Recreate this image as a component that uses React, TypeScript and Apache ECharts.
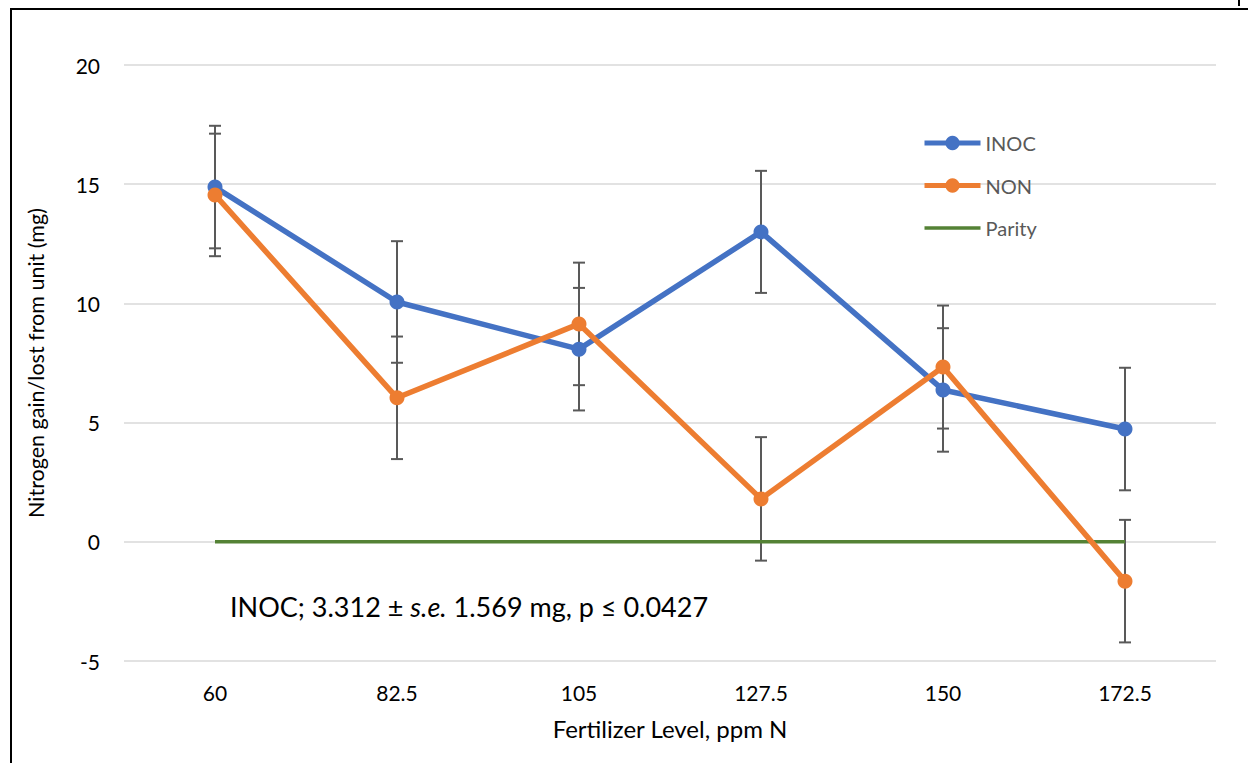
import React, { useEffect, useRef } from "react";
import * as echarts from "echarts";

const categories = ["60", "82.5", "105", "127.5", "150", "172.5"];
const inocValues = [14.88, 10.06, 8.08, 13.0, 6.37, 4.73];
const nonValues = [14.55, 6.04, 9.14, 1.8, 7.33, -1.65];
const parityValues = [0, 0, 0, 0, 0, 0];
const inocErr = [2.57, 2.55, 2.57, 2.56, 2.59, 2.57];
const nonErr = [2.57, 2.57, 2.57, 2.59, 2.58, 2.57];
const yTicks = { min: -5, max: 20, interval: 5 };

const FONT = "Lato, 'Open Sans', sans-serif";

export default function App() {
  const ref = useRef<HTMLDivElement>(null);
  useEffect(() => {
    if (!ref.current) return;
    const chart = echarts.init(ref.current, null, { renderer: "svg" });
    const errData = (vals: number[], errs: number[]) =>
      vals.map((v, i) => [i, v, errs[i]]);
    const renderErr = (params: any, api: any) => {
      const x = api.value(0);
      const v = api.value(1);
      const e = api.value(2);
      const top = api.coord([x, v + e]);
      const bot = api.coord([x, v - e]);
      const hw = 6;
      const st = { stroke: "#595959", lineWidth: 2 };
      return {
        type: "group",
        children: [
          { type: "line", shape: { x1: top[0], y1: top[1], x2: bot[0], y2: bot[1] }, style: st },
          { type: "line", shape: { x1: top[0] - hw, y1: top[1], x2: top[0] + hw, y2: top[1] }, style: st },
          { type: "line", shape: { x1: bot[0] - hw, y1: bot[1], x2: bot[0] + hw, y2: bot[1] }, style: st },
        ],
      };
    };
    chart.setOption({
      animation: false,
      backgroundColor: "#ffffff",
      textStyle: { fontFamily: FONT },
      grid: { left: 124, right: 32, top: 65, bottom: 102, containLabel: false },
      legend: {
        data: [
          { name: "INOC", lineStyle: { width: 5 } },
          { name: "NON", lineStyle: { width: 5 } },
          { name: "Parity", lineStyle: { width: 3.5 }, itemStyle: { opacity: 0 } },
        ],
        orient: "vertical",
        left: 922,
        top: 133,
        padding: 0,
        itemWidth: 56,
        itemHeight: 18,
        itemGap: 22.5,
        textStyle: { fontFamily: FONT, fontSize: 20, color: "#595959" },
      },
      xAxis: {
        type: "category",
        data: categories,
        boundaryGap: true,
        axisLine: { show: false },
        axisTick: { show: false },
        axisLabel: { color: "#000000", fontSize: 21, margin: 21, fontFamily: FONT },
        name: "Fertilizer Level, ppm N",
        nameLocation: "middle",
        nameGap: 55,
        nameTextStyle: { color: "#000000", fontSize: 24, fontFamily: FONT },
      },
      yAxis: {
        type: "value",
        min: yTicks.min,
        max: yTicks.max,
        interval: yTicks.interval,
        axisLine: { show: false },
        axisTick: { show: false },
        axisLabel: { color: "#000000", fontSize: 21, margin: 24, fontFamily: FONT },
        splitLine: { lineStyle: { color: "#d9d9d9", width: 1.5 } },
        name: "Nitrogen gain/lost from unit (mg)",
        nameLocation: "middle",
        nameGap: 77,
        nameTextStyle: { color: "#000000", fontSize: 21.5, fontFamily: FONT },
      },
      series: [
        {
          type: "custom",
          name: "errInoc",
          renderItem: renderErr,
          data: errData(inocValues, inocErr),
          encode: { x: 0, y: 1 },
          z: 1,
          silent: true,
        },
        {
          type: "custom",
          name: "errNon",
          renderItem: renderErr,
          data: errData(nonValues, nonErr),
          encode: { x: 0, y: 1 },
          z: 1,
          silent: true,
        },
        {
          name: "Parity",
          type: "line",
          data: parityValues,
          symbol: "none",
          lineStyle: { color: "#548235", width: 3.5 },
          itemStyle: { color: "#548235" },
          z: 2,
        },
        {
          name: "INOC",
          type: "line",
          data: inocValues,
          symbol: "circle",
          symbolSize: 15,
          lineStyle: { color: "#4472C4", width: 5.5 },
          itemStyle: { color: "#4472C4" },
          z: 3,
        },
        {
          name: "NON",
          type: "line",
          data: nonValues,
          symbol: "circle",
          symbolSize: 15,
          lineStyle: { color: "#ED7D31", width: 5.5 },
          itemStyle: { color: "#ED7D31" },
          z: 4,
        },
      ],
      graphic: [
        {
          type: "rect",
          shape: { x: 11, y: 9, width: 1400, height: 900 },
          style: { fill: "none", stroke: "#000000", lineWidth: 2 },
          silent: true,
        },
        {
          type: "line",
          shape: { x1: 1239, y1: 0, x2: 1239, y2: 6 },
          style: { stroke: "#000000", lineWidth: 2 },
          silent: true,
        },
        {
          type: "text",
          x: 230,
          y: 606,
          style: {
            text: "{a|INOC; 3.312 ± }{b|s.e.}{a| 1.569 mg, p ≤ 0.0427}",
            verticalAlign: "middle",
            rich: {
              a: { fontFamily: FONT, fontSize: 27, fill: "#000000" },
              b: { fontFamily: FONT, fontSize: 27, fontStyle: "italic", fill: "#000000" },
            },
          },
          silent: true,
        },
      ],
    });
    return () => chart.dispose();
  }, []);
  return (
    <div
      ref={ref}
      style={{ position: "absolute", left: 0, top: 0, width: 1248, height: 763 }}
    />
  );
}
